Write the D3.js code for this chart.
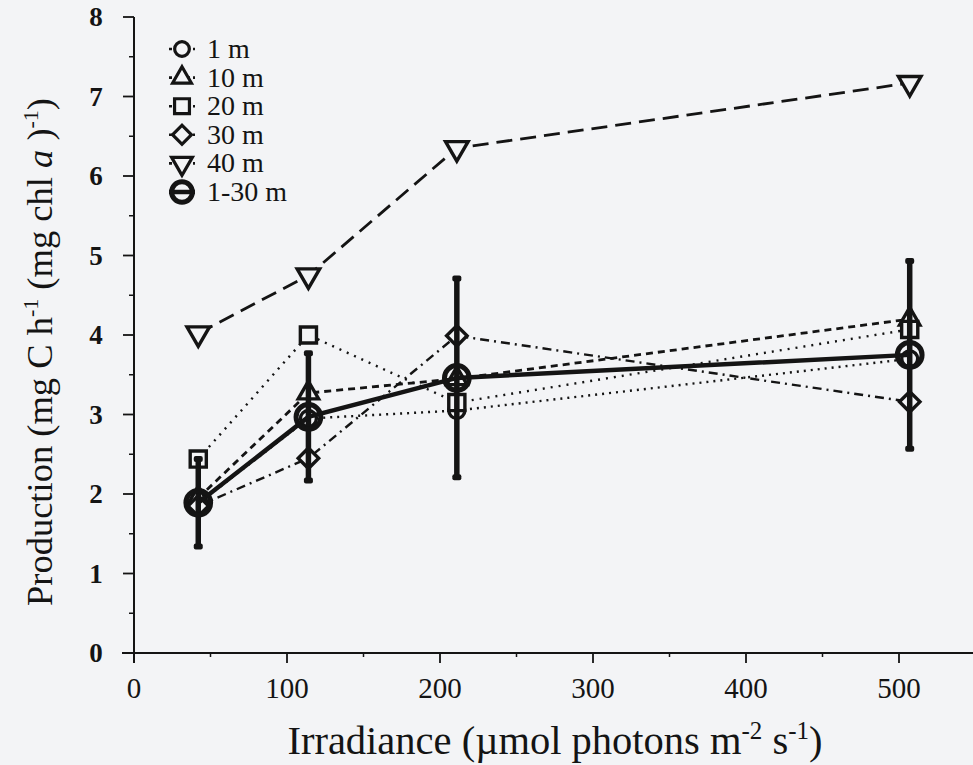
<!DOCTYPE html>
<html>
<head>
<meta charset="utf-8">
<script src="https://cdn.jsdelivr.net/npm/d3@7/dist/d3.min.js"></script>
<style>
  html, body { margin: 0; padding: 0; background: #f3f4f6; }
  svg { display: block; font-family: "Liberation Serif", "Times New Roman", serif; }
</style>
</head>
<body>
<svg id="chart" width="973" height="765"></svg>
<script>
// Irradiance levels (x) and production per depth
const irradiance = [42, 114, 211, 507];
const depthLabels = ['1 m', '10 m', '20 m', '30 m', '40 m', '1-30 m'];
const prod1m = [1.88, 2.95, 3.05, 3.7];
const prod10m = [1.95, 3.27, 3.45, 4.2];
const prod20m = [2.44, 4.0, 3.15, 4.07];
const prod30m = [1.85, 2.45, 3.99, 3.16];
const prod40m = [4.02, 4.75, 6.35, 7.17];
const prodMean = [1.89, 2.97, 3.46, 3.75];
const prodSD = [0.55, 0.8, 1.25, 1.18];
const xTicks = [0, 100, 200, 300, 400, 500];
const yTicks = [0, 1, 2, 3, 4, 5, 6, 7, 8];

const ink = '#141414';
const bg = '#f3f4f6';

const svg = d3.select('#chart');

const x = d3.scaleLinear().domain([0, 500]).range([134, 899]);
const y = d3.scaleLinear().domain([0, 8]).range([653, 17]);

// symbol shapes, one per series
const shapes = {
  circle: { type: d3.symbolCircle, size: 200, rot: 0 },
  triUp: { type: d3.symbolTriangle, size: 180, rot: 0 },
  square: { type: d3.symbolSquare, size: 260, rot: 0 },
  diamond: { type: d3.symbolSquare, size: 210, rot: 45 },
  triDown: { type: d3.symbolTriangle, size: 220, rot: 180 },
  mean: { type: d3.symbolCircle, size: 480, rot: 0 }
};

const series = [
  { name: depthLabels[0], values: prod1m, shape: 'circle', dash: '2,5', width: 2.4 },
  { name: depthLabels[1], values: prod10m, shape: 'triUp', dash: '7,5', width: 2.8 },
  { name: depthLabels[2], values: prod20m, shape: 'square', dash: '2,6', width: 2.4 },
  { name: depthLabels[3], values: prod30m, shape: 'diamond', dash: '9,5,2,5', width: 2.4 },
  { name: depthLabels[4], values: prod40m, shape: 'triDown', dash: '16,8', width: 2.8 }
];

// ---- axes ----
const xAxis = svg.append('g').attr('transform', `translate(0,${y(0)})`);
xAxis.append('line')
  .attr('x1', 122).attr('x2', 973)
  .attr('stroke', ink).attr('stroke-width', 2);
xAxis.selectAll('line.minor')
  .data(d3.range(50, 551, 100))
  .join('line')
  .attr('class', 'minor')
  .attr('x1', d => x(d)).attr('x2', d => x(d))
  .attr('y1', 0).attr('y2', 4)
  .attr('stroke', ink).attr('stroke-width', 1.5);
xAxis.selectAll('line.major')
  .data(xTicks)
  .join('line')
  .attr('class', 'major')
  .attr('x1', d => x(d)).attr('x2', d => x(d))
  .attr('y1', 0).attr('y2', 10)
  .attr('stroke', ink).attr('stroke-width', 1.8);
xAxis.selectAll('text')
  .data(xTicks)
  .join('text')
  .attr('x', d => x(d))
  .attr('y', 45)
  .attr('text-anchor', 'middle')
  .attr('font-size', 29)
  .attr('fill', ink)
  .text(d => d);

const yAxis = svg.append('g').attr('transform', `translate(${x(0)},0)`);
yAxis.append('line')
  .attr('y1', y(8)).attr('y2', y(0) + 10)
  .attr('stroke', ink).attr('stroke-width', 2);
yAxis.selectAll('line.minor')
  .data(d3.range(0.5, 8, 1))
  .join('line')
  .attr('class', 'minor')
  .attr('y1', d => y(d)).attr('y2', d => y(d))
  .attr('x1', -5).attr('x2', 0)
  .attr('stroke', ink).attr('stroke-width', 1.5);
yAxis.selectAll('line.major')
  .data(yTicks)
  .join('line')
  .attr('class', 'major')
  .attr('y1', d => y(d)).attr('y2', d => y(d))
  .attr('x1', -11).attr('x2', 0)
  .attr('stroke', ink).attr('stroke-width', 1.8);
yAxis.selectAll('text')
  .data(yTicks)
  .join('text')
  .attr('x', -38)
  .attr('y', d => y(d) + 9)
  .attr('text-anchor', 'middle')
  .attr('font-size', 27)
  .attr('font-weight', 'bold')
  .attr('fill', ink)
  .text(d => d);

// axis titles
const xTitle = svg.append('text')
  .attr('x', 555).attr('y', 754)
  .attr('text-anchor', 'middle')
  .attr('font-size', 40.5)
  .attr('fill', ink);
xTitle.append('tspan').text('Irradiance (µmol photons m');
xTitle.append('tspan').attr('font-size', 25).attr('dy', -15).text('-2');
xTitle.append('tspan').attr('dy', 15).text(' s');
xTitle.append('tspan').attr('font-size', 25).attr('dy', -15).text('-1');
xTitle.append('tspan').attr('dy', 15).text(')');

const yTitle = svg.append('text')
  .attr('transform', 'translate(52,352) rotate(-90)')
  .attr('text-anchor', 'middle')
  .attr('font-size', 36.5)
  .attr('fill', ink);
yTitle.append('tspan').text('Production (mg C h');
yTitle.append('tspan').attr('font-size', 22).attr('dy', -14).text('-1');
yTitle.append('tspan').attr('dy', 14).text(' (mg chl ');
yTitle.append('tspan').attr('font-style', 'italic').text('a');
yTitle.append('tspan').text(' )');
yTitle.append('tspan').attr('font-size', 22).attr('dy', -14).text('-1');
yTitle.append('tspan').attr('dy', 14).text(')');

// ---- depth series ----
const line = d3.line()
  .x((d, i) => x(irradiance[i]))
  .y(d => y(d));

const plot = svg.append('g');

function symbolPath(key, k = 1) {
  return d3.symbol().type(shapes[key].type).size(shapes[key].size * k)();
}

series.forEach(s => {
  plot.append('path')
    .datum(s.values)
    .attr('d', line)
    .attr('fill', 'none')
    .attr('stroke', ink)
    .attr('stroke-width', s.width)
    .attr('stroke-dasharray', s.dash);
});

series.forEach(s => {
  plot.selectAll(null)
    .data(s.values)
    .join('path')
    .attr('d', symbolPath(s.shape))
    .attr('transform', (d, i) => `translate(${x(irradiance[i])},${y(d)}) rotate(${shapes[s.shape].rot})`)
    .attr('fill', bg)
    .attr('stroke', ink)
    .attr('stroke-width', 3.4);
});

// ---- mean of 1-30 m with SD bars ----
const meanG = svg.append('g');
meanG.selectAll('line.err')
  .data(prodMean)
  .join('line')
  .attr('class', 'err')
  .attr('x1', (d, i) => x(irradiance[i])).attr('x2', (d, i) => x(irradiance[i]))
  .attr('y1', (d, i) => y(d + prodSD[i])).attr('y2', (d, i) => y(d - prodSD[i]))
  .attr('stroke', ink).attr('stroke-width', 5.5);
meanG.selectAll('rect.cap')
  .data(prodMean.flatMap((d, i) => [{ i, v: d + prodSD[i] }, { i, v: d - prodSD[i] }]))
  .join('rect')
  .attr('class', 'cap')
  .attr('x', d => x(irradiance[d.i]) - 4.5)
  .attr('y', d => y(d.v) - 3)
  .attr('width', 9).attr('height', 6)
  .attr('rx', 2)
  .attr('fill', ink);

meanG.append('path')
  .datum(prodMean)
  .attr('d', line)
  .attr('fill', 'none')
  .attr('stroke', ink)
  .attr('stroke-width', 4.5);

meanG.selectAll('path.meanpt')
  .data(prodMean)
  .join('path')
  .attr('class', 'meanpt')
  .attr('d', symbolPath('mean'))
  .attr('transform', (d, i) => `translate(${x(irradiance[i])},${y(d)})`)
  .attr('fill', 'none')
  .attr('stroke', ink)
  .attr('stroke-width', 5);

// ---- legend ----
const legendItems = series.map(s => ({ name: s.name, shape: s.shape, dash: s.dash, width: s.width }))
  .concat([{ name: depthLabels[5], shape: 'mean', dash: null, width: 4.5 }]);

const legend = svg.append('g').attr('transform', 'translate(182,49)');
const rows = legend.selectAll('g')
  .data(legendItems)
  .join('g')
  .attr('transform', (d, i) => `translate(0,${i * 28.6})`);

rows.append('line')
  .attr('x1', -13).attr('x2', 13)
  .attr('stroke', ink)
  .attr('stroke-width', d => d.width)
  .attr('stroke-dasharray', d => d.dash ? '3,3' : null);
rows.append('path')
  .attr('d', d => symbolPath(d.shape, d.shape === 'mean' ? 0.7 : 0.85))
  .attr('transform', d => `rotate(${shapes[d.shape].rot})`)
  .attr('fill', d => d.shape === 'mean' ? 'none' : bg)
  .attr('stroke', ink)
  .attr('stroke-width', d => d.shape === 'mean' ? 5 : 3.2);
rows.append('text')
  .attr('x', 25)
  .attr('y', 9)
  .attr('font-size', 28)
  .attr('fill', ink)
  .text(d => d.name);
</script>
</body>
</html>
